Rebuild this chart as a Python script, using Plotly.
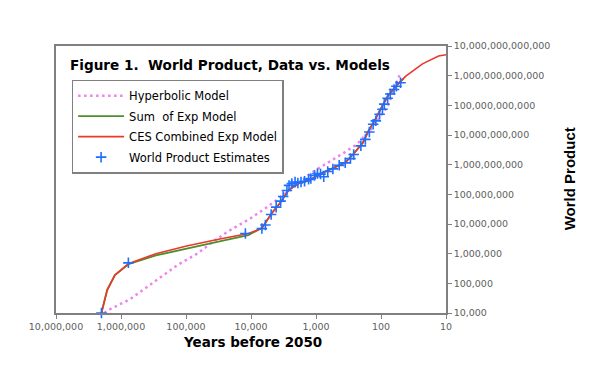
import plotly.graph_objects as go

# ---- data ----
hyp_years = [1.8e6, 1.63e6, 7.1e5, 3.1e5, 1.36e5, 6.7e4, 4.5e4, 2.3e4, 1.02e4, 6.0e3,
             3.7e3, 2.3e3, 1.2e3, 600, 373, 234, 135, 78, 50]
hyp_values = [1.0e4, 1.2e4, 3.0e4, 1.1e5, 4.1e5, 1.0e6, 1.95e6, 5.5e6, 1.55e7, 3.4e7,
              7.4e7, 1.6e8, 5.2e8, 1.3e9, 2.5e9, 4.9e9, 1.8e10, 9.8e10, 1.3e12]

sum_years = [2.0e6, 1.63e6, 1.24e6, 7.7e5, 2.9e5, 9.8e4, 3.3e4, 1.1e4, 6.8e3, 4.8e3,
             3.6e3, 2.6e3, 1.8e3, 1.2e3, 810, 540, 355, 270, 190, 155, 126, 95, 78, 55, 45]
sum_values = [1.0e4, 6.2e4, 1.9e5, 4.4e5, 8.7e5, 1.5e6, 2.5e6, 4.2e6, 7.4e6, 2.3e7,
              5.0e7, 1.45e8, 2.4e8, 3.2e8, 5.2e8, 7.8e8, 1.2e9, 2.2e9, 5.5e9, 1.4e10,
              3.0e10, 9.8e10, 2.1e11, 5.2e11, 8.0e11]

ces_years = [2.0e6, 1.63e6, 1.24e6, 7.7e5, 2.9e5, 9.8e4, 3.3e4, 1.1e4, 6.8e3, 4.8e3,
             3.6e3, 2.6e3, 1.8e3, 1.2e3, 810, 540, 355, 270, 190, 155, 126, 95, 78,
             55, 42, 23, 13, 10]
ces_values = [1.0e4, 5.8e4, 1.9e5, 4.6e5, 1.0e6, 1.8e6, 3.0e6, 4.8e6, 7.1e6, 2.3e7,
              5.0e7, 1.45e8, 2.4e8, 3.2e8, 5.2e8, 7.8e8, 1.15e9, 2.2e9, 5.5e9, 1.4e10,
              3.0e10, 9.8e10, 2.1e11, 5.2e11, 9.5e11, 2.5e12, 4.6e12, 5.1e12]

est_years = [2.0e6, 7.7e5, 1.22e4, 6.8e3, 6.0e3, 4.9e3, 4.1e3, 3.5e3, 3.2e3, 2.8e3,
             2.6e3, 2.35e3, 2.1e3, 1.9e3, 1.7e3, 1.5e3, 1.3e3, 1.2e3, 1.05e3, 950,
             850, 760, 660, 550, 440, 355, 295, 263, 204, 174,
             151, 132, 120, 105, 95, 89, 79, 72, 63, 58, 50]
est_values = [1.0e4, 4.9e5, 4.8e6, 7.0e6, 9.3e6, 2.1e7, 3.7e7, 5.9e7, 8.5e7, 1.35e8,
              2.0e8, 2.3e8, 2.6e8, 2.4e8, 2.6e8, 2.75e8, 3.2e8, 3.4e8, 4.3e8, 5.0e8,
              4.8e8, 3.9e8, 5.9e8, 7.2e8, 9.5e8, 1.15e9, 1.6e9, 2.2e9, 4.3e9, 7.1e9,
              1.26e10, 2.3e10, 3.0e10, 5.0e10, 7.4e10, 1.1e11, 1.74e11, 2.4e11, 3.4e11,
              4.4e11, 5.8e11]

x_tickvals = [1e7, 1e6, 1e5, 1e4, 1e3, 1e2, 1e1]
x_ticktext = ["10,000,000", "1,000,000", "100,000", "10,000", "1,000", "100", "10"]
y_tickvals = [1e4, 1e5, 1e6, 1e7, 1e8, 1e9, 1e10, 1e11, 1e12, 1e13]
y_ticktext = ["10,000", "100,000", "1,000,000", "10,000,000", "100,000,000",
              "1,000,000,000", "10,000,000,000", "100,000,000,000",
              "1,000,000,000,000", "10,000,000,000,000"]

FONT = "DejaVu Sans"
GRAY = "#808080"

fig = go.Figure()
fig.add_trace(go.Scatter(x=hyp_years, y=hyp_values, mode="lines", name="Hyperbolic Model",
                         legendgroup="a",
                         line=dict(color="#EE82EE", width=2.5, dash="2.5px,3.5px")))
fig.add_trace(go.Scatter(x=sum_years, y=sum_values, mode="lines", name="Sum  of Exp Model",
                         legendgroup="b",
                         line=dict(color="#4F8F2A", width=1.8)))
fig.add_trace(go.Scatter(x=ces_years, y=ces_values, mode="lines", name="CES Combined Exp Model",
                         legendgroup="c",
                         line=dict(color="#E8392B", width=1.6)))
fig.add_trace(go.Scatter(x=est_years, y=est_values, mode="markers", name="World Product Estimates",
                         legendgroup="d", cliponaxis=False,
                         marker=dict(symbol="cross-thin", size=7.5, color="#1F6FFF",
                                     line=dict(color="#1F6FFF", width=1.6))))

axis_common = dict(showline=True, linecolor=GRAY, linewidth=1.5, mirror=True,
                   ticks="outside", ticklen=4, tickcolor=GRAY, tickwidth=1,
                   showgrid=False, zeroline=False,
                   tickfont=dict(family=FONT, size=9.5, color="#606060"))

# page body has an 8px default margin, so the figure is 8px smaller and margins shifted
fig.update_layout(
    width=599, height=370,
    margin=dict(l=48, r=161, t=38, b=65),
    paper_bgcolor="white", plot_bgcolor="white",
    xaxis=dict(type="log", range=[7, 1], tickmode="array",
               tickvals=x_tickvals, ticktext=x_ticktext, **axis_common),
    yaxis=dict(type="log", range=[4, 13], side="right", tickmode="array",
               tickvals=y_tickvals, ticktext=y_ticktext, **axis_common),
    legend=dict(x=0.04, y=0.874, xanchor="left", yanchor="top",
                bgcolor="white", bordercolor=GRAY, borderwidth=1.5,
                font=dict(family=FONT, size=11.5, color="black"),
                traceorder="grouped", tracegroupgap=1.5, itemwidth=46),
    showlegend=True,
)

fig.add_annotation(text="<b>Figure 1.  World Product, Data vs. Models</b>",
                   xref="paper", yref="paper", x=0.032, y=0.93,
                   xanchor="left", yanchor="middle", showarrow=False,
                   font=dict(family=FONT, size=13.6, color="black"))
fig.add_annotation(text="<b>Years before 2050</b>",
                   xref="paper", yref="paper", x=0.504, y=-0.107,
                   xanchor="center", yanchor="middle", showarrow=False,
                   font=dict(family=FONT, size=13.5, color="black"))
fig.add_annotation(text="<b>World Product</b>",
                   xref="paper", yref="paper", x=1.317, y=0.503, textangle=-90,
                   xanchor="center", yanchor="middle", showarrow=False,
                   font=dict(family="Liberation Sans", size=15, color="black"))

fig.write_html("out.html")
